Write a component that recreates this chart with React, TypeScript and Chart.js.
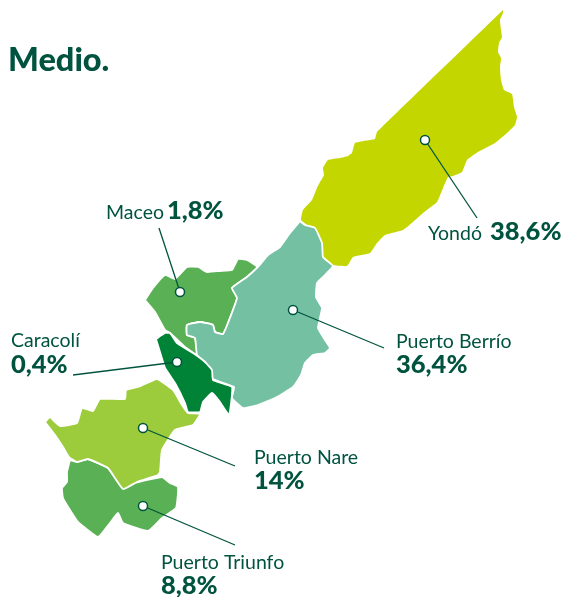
import React, { useEffect, useRef } from "react";
import { Chart, registerables } from "chart.js";

Chart.register(...registerables);

type P = [number, number];

const municipalities = ["Yondó", "Puerto Berrío", "Maceo", "Caracolí", "Puerto Nare", "Puerto Triunfo"];
const shares = ["38,6%", "36,4%", "1,8%", "0,4%", "14%", "8,8%"];
const colors = ["#c4d600", "#74c0a3", "#5ab055", "#008237", "#9ccb3b", "#5ab055"];

const yondo: P[] = [[503,10],[503,13],[500,20],[501,30],[502,37],[499,43],[498,52],[501,58],[500,68],[501,80],[504,90],[512,94],[514,107],[517,117],[515,125],[507,133],[495,143],[478,152],[467,160],[462,172],[453,176],[448,177],[443,188],[437,202],[423,213],[413,222],[403,230],[385,235],[377,243],[370,253],[353,257],[347,266],[333,265],[323,258],[322,245],[315,233],[307,225],[301,220],[303,210],[312,200],[317,188],[320,182],[324,175],[323,168],[328,160],[340,158],[348,156],[352,153],[355,143],[370,140],[375,139],[377,132],[382,127]];
const berrio: P[] = [[300,221],[305,225],[315,228],[322,243],[323,257],[333,266],[325,275],[317,283],[316,297],[322,308],[318,328],[325,340],[330,348],[325,353],[313,355],[305,363],[301,375],[293,387],[275,398],[258,405],[243,408],[232,398],[234,387],[213,379],[205,362],[197,355],[195,338],[187,335],[187,325],[200,322],[213,325],[215,332],[223,334],[228,323],[237,298],[232,288],[247,277],[258,267],[268,255],[280,247],[290,233]];
const maceo: P[] = [[145,300],[153,288],[165,275],[175,279],[187,267],[198,267],[207,272],[220,271],[232,270],[238,259],[247,260],[257,267],[247,277],[232,288],[237,298],[228,323],[223,334],[215,332],[213,325],[200,322],[187,325],[187,335],[195,338],[197,355],[185,347],[170,333],[165,330],[155,312]];
const caracoli: P[] = [[156,339],[165,333],[170,333],[177,343],[193,353],[205,362],[212,370],[213,380],[232,387],[229,415],[220,402],[212,393],[203,402],[200,412],[188,412],[185,403],[175,383],[165,368],[160,352]];
const nare: P[] = [[45,422],[50,417],[53,420],[60,426],[77,423],[82,408],[93,411],[100,399],[125,399],[126,390],[138,387],[157,379],[173,390],[182,405],[188,413],[200,414],[193,425],[175,430],[162,450],[160,472],[158,475],[137,482],[123,489],[108,468],[88,459],[77,462],[69,457],[63,447],[55,435]];
const triunfo: P[] = [[70,460],[77,462],[88,459],[108,468],[123,488],[135,483],[162,477],[170,483],[178,487],[176,508],[162,518],[148,531],[123,523],[118,513],[110,523],[98,537],[78,522],[70,510],[63,498],[62,488],[67,482],[67,472]];

const regions: P[][] = [yondo, berrio, maceo, caracoli, nare, triunfo];
const markers: P[] = [[425,140],[293,310],[180,292],[177,362],[143,428],[143,506]];
const leaderEnds: P[] = [[477,218],[384,348],[159,228],[73,375],[235,466],[235,545]];

const nameAnchors: P[] = [[428,240],[396,348],[106,219],[11,347],[254,464],[161,569]];
const shareAnchors: P[] = [[490,240],[396,373],[167,219],[11,373],[254,489],[161,594]];
const title = "Medio.";
const titleAnchor: P = [8, 71];

const INK = "#00543f";
const FONT = "Lato";

const toXY = (pts: P[]) => pts.map(([x, y]) => ({ x, y }));

const labelPlugin = {
  id: "labels",
  afterDatasetsDraw(chart: any) {
    const { ctx, scales } = chart;
    const sx = (v: number) => scales.x.getPixelForValue(v);
    const sy = (v: number) => scales.y.getPixelForValue(v);
    ctx.save();
    ctx.fillStyle = INK;
    ctx.textBaseline = "alphabetic";
    ctx.textAlign = "left";
    ctx.font = `900 32.5px ${FONT}`;
    ctx.fillText(title, sx(titleAnchor[0]), sy(titleAnchor[1]));
    municipalities.forEach((name, i) => {
      ctx.font = `400 19.5px ${FONT}`;
      ctx.fillText(name, sx(nameAnchors[i][0]), sy(nameAnchors[i][1]));
      ctx.font = `900 25.5px ${FONT}`;
      ctx.fillText(shares[i], sx(shareAnchors[i][0]), sy(shareAnchors[i][1]));
    });
    ctx.restore();
  },
};

export default function App() {
  const ref = useRef<HTMLCanvasElement>(null);
  useEffect(() => {
    document.body.style.margin = "0";
    const datasets: any[] = [];
    datasets.push({
      data: toXY(markers),
      showLine: false,
      pointRadius: 4.5,
      pointBackgroundColor: "#ffffff",
      pointBorderColor: INK,
      pointBorderWidth: 1.5,
      clip: false,
    });
    markers.forEach((m, i) => {
      datasets.push({
        data: toXY([m, leaderEnds[i]]),
        showLine: true,
        borderColor: INK,
        borderWidth: 1.3,
        pointRadius: 0,
        fill: false,
        clip: false,
      });
    });
    [3, 4, 5, 1, 2, 0].forEach((i) => {
      const pts = regions[i];
      datasets.push({
        data: toXY([...pts, pts[0]]),
        showLine: true,
        backgroundColor: colors[i],
        borderColor: i === 0 ? colors[i] : "#ffffff",
        borderWidth: i === 0 ? 0 : 1.8,
        borderJoinStyle: "round",
        pointRadius: 0,
        tension: 0.12,
        fill: "shape",
        clip: false,
      });
    });
    const chart = new Chart(ref.current!, {
      type: "scatter",
      data: { datasets },
      options: {
        animation: false,
        responsive: false,
        devicePixelRatio: 1,
        layout: { padding: 0, autoPadding: false },
        plugins: { legend: { display: false }, tooltip: { enabled: false } },
        events: [],
        scales: {
          x: { type: "linear", display: false, min: 0, max: 564 },
          y: { type: "linear", display: false, min: 0, max: 597, reverse: true },
        },
      },
      plugins: [labelPlugin],
    } as any);
    return () => chart.destroy();
  }, []);
  return <canvas ref={ref} width={564} height={597} style={{ display: "block" }} />;
}
